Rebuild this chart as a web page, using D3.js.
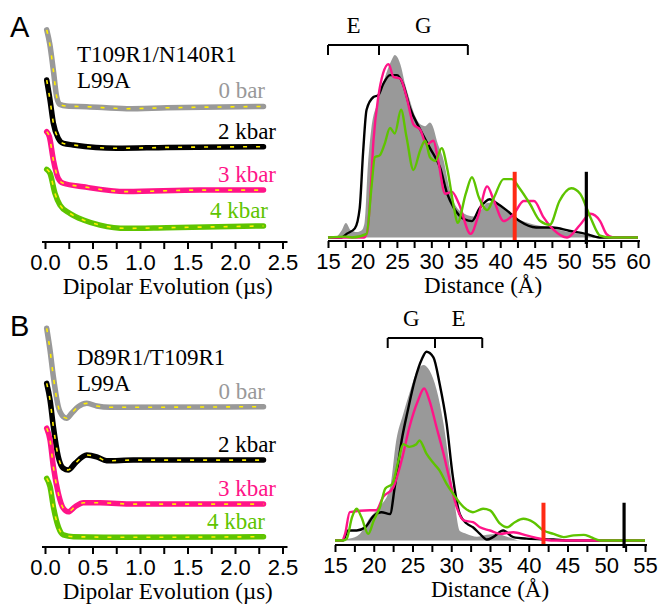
<!DOCTYPE html>
<html>
<head>
<meta charset="utf-8">
<script src="https://cdn.jsdelivr.net/npm/d3@7"></script>
<style>
  body { margin: 0; background: #fff; }
  svg { display: block; }
</style>
</head>
<body>
<svg id="fig" width="662" height="607"></svg>
<script>
// ---- data ----
var pressures = ["0 bar", "2 kbar", "3 kbar", "4 kbar"];
var traceColors = ["#999999", "#000000", "#ff1488", "#5ec400"];

// DEER decays, [time (us), signal + offset (a.u.)]
var decayA0 = [[0.018,96.4],[0.05,90],[0.088,78],[0.123,66],[0.158,62.5],[0.228,61.8],[0.44,61.5],[0.86,60.6],[1.28,61],[2.30,61.6]];
var decayA2 = [[0.018,73.6],[0.053,64.5],[0.088,54],[0.14,47.1],[0.193,44.8],[0.298,44.1],[0.754,42.6],[1.28,43],[2.30,43.3]];
var decayA3 = [[0.018,50.1],[0.046,47.9],[0.088,37.3],[0.14,28.9],[0.193,26.7],[0.404,25.1],[0.86,22.9],[1.63,23.6],[2.30,23.6]];
var decayA4 = [[0.018,33],[0.053,31.2],[0.105,22.1],[0.158,16.8],[0.263,13],[0.404,10],[0.579,7.7],[0.86,6.2],[1.28,6.5],[2.30,7.3]];

var decayB0 = [[0.018,99.4],[0.053,89.5],[0.088,77.4],[0.14,63.8],[0.193,59.2],[0.228,58.5],[0.28,60.8],[0.35,63.8],[0.44,65.3],[0.544,64.1],[0.684,63.5],[2.30,63.8]];
var decayB2 = [[0.018,74.4],[0.053,66.8],[0.088,54.7],[0.14,41],[0.193,35.8],[0.245,35],[0.316,38],[0.44,41.8],[0.544,41],[0.649,39.2],[0.93,39.5],[2.30,39.5]];
var decayB3 = [[0.018,54],[0.053,48.6],[0.088,36.5],[0.14,24.4],[0.193,17.6],[0.245,16],[0.316,18.3],[0.404,20.1],[0.579,20.1],[0.93,19.5],[2.30,19.5]];
var decayB4 = [[0.018,31.2],[0.053,27.4],[0.088,18.3],[0.14,9.2],[0.193,5.5],[0.298,4.7],[0.93,4.4],[2.30,4.7]];

// distance distributions, [distance (A), P(r) a.u.]
var distA0 = [[15,0],[16.2,0.5],[17,4],[17.6,8],[18.3,4],[19.2,3],[19.9,4],[20.3,8],[20.8,40],[21.3,60],[22.2,74],[23.2,87],[24.2,97],[24.7,100],[25.5,95],[26.2,84],[26.9,75],[27.6,67],[28.4,62],[29.1,61],[29.8,63],[30.3,60],[30.8,53],[31.8,42],[32.6,27],[33.3,19],[34.8,13],[36.2,11.5],[37.2,15],[38.2,19],[39.2,19],[40.2,17],[41.2,14],[42.2,11],[44.1,8],[47,5.5],[49.9,3],[52.8,1],[54.2,0],[60,0]];
var distA2 = [[15,0],[17,0],[17.7,2],[18.9,5],[19.6,16],[20.1,47],[20.6,70],[21.6,77],[22.3,78],[23,84],[24,89],[25,89],[25.9,84],[26.9,71],[28.4,59],[29.8,49],[31.3,38],[32.3,24],[33.3,16],[34.8,10],[35.9,9],[37,16],[38.5,21],[39.4,19],[40.9,15],[42.8,9],[45.2,5.5],[47.6,5.5],[50,3.7],[52.4,2],[54.4,0],[60,0]];
var distA3 = [[15,0],[20.2,0],[20.7,3],[21.1,20],[21.6,53],[22.3,77],[23,90],[23.8,95],[24.5,88],[25.5,87],[26.4,77],[27.4,62],[28.4,59],[29.3,51],[30.3,53],[31,42],[32,24],[33,25],[34,18.5],[35.7,2],[36.9,13],[38.1,28],[39.1,20],[40.5,9],[42,13],[43.4,20],[44.9,20],[46.3,11],[47.8,4],[49.7,0],[51.6,7],[53.1,13],[54.5,9],[55.4,2],[56.4,0],[60,0]];
var distA4 = [[15,0],[17.5,0.5],[18.5,0],[20.6,2],[21.3,27],[21.8,44],[22.5,45],[23.2,51],[24,60],[24.7,57],[25.6,70],[26.4,55],[27.4,37],[28.4,48],[29.1,53],[29.8,44],[30.6,42],[31.5,49],[32.3,38],[33.3,16],[33.8,8],[35,24],[35.9,33],[36.9,22],[38.1,15],[39.1,22],[40.5,32],[41.7,32],[42.8,27],[44.3,18.5],[45.8,9],[47.2,7],[48.6,20],[50.3,27],[51.6,24],[53.1,11],[54.5,1],[55.9,0],[60,0]];

var distB0 = [[15,0],[16.9,1],[18.2,3.5],[19.5,12],[20.8,18],[22.1,28],[22.9,53],[23.8,67],[24.6,78],[25.5,89],[26.4,93],[27.2,90],[28.1,80],[29,62],[29.8,39],[30.5,18],[31.1,5],[32,3.5],[33.3,2],[34.6,3],[35.9,3.5],[37.2,2],[38.9,0],[55,0]];
var distB2 = [[15,0],[16,0],[16.7,5.3],[17.8,5.3],[18.9,7],[20,13],[21,15],[22.1,14],[22.7,28],[23.6,53],[24.4,69],[25.3,85],[26.2,96],[26.8,100],[27.7,97],[28.5,83],[29.4,62],[30.2,34],[31.1,14],[32,9],[32.8,7],[33.7,3.5],[34.6,0.5],[35.4,1.8],[36.7,5.3],[38,1.8],[39.7,1],[43.2,0.5],[45.3,0],[55,0]];
var distB3 = [[15,0],[15.9,0],[16.3,3.5],[16.9,15],[19.5,16],[20.3,16],[21.2,23],[22.5,28],[23.6,42.5],[24.6,60],[25.7,74],[26.5,80.5],[27.2,74],[28.1,60],[29,46],[29.8,32],[30.7,17.7],[31.6,10.6],[32.8,9.7],[33.7,7],[35,5.3],[36.3,3.5],[38,4.4],[39.7,2.7],[41.5,0.9],[43.2,0],[55,0]];
var distB4 = [[15,0],[16,0],[16.5,0.9],[17.2,12.4],[17.8,16.8],[18.4,12.4],[19.3,3.5],[20,10.6],[20.8,17.7],[21.5,27.5],[22.4,30],[23.2,42.5],[23.8,51],[24.6,49.6],[25.5,51],[25.9,53],[26.8,46],[27.7,41],[28.5,37],[29.4,30],[30.2,25],[31.6,17.7],[32.8,15],[34.1,16.8],[35,16],[36.3,8.9],[37.2,7],[38.2,9.7],[39.3,11.5],[40.6,9.7],[41.9,5.3],[43.2,3.5],[44.5,1.8],[45.8,2.7],[47.1,3],[48,1.8],[49.2,0],[55,0]];

// vertical markers: [distance, height]
var markersA = [[42.1, 36], [52.5, 36]];
var markersB = [[41.9, 20], [52.3, 20]];
var markerColors = ["#ff2a14", "#000000"];

// E / G brackets: [start, split, end]
var bracketA = [15, 22.4, 35.3];
var bracketLabelsA = ["E", "G"];
var bracketB = [21.8, 27.9, 34.0];
var bracketLabelsB = ["G", "E"];

var decayTickLabels = [0, 0.5, 1, 1.5, 2, 2.5];
var distTickLabelsA = [15, 20, 25, 30, 35, 40, 45, 50, 55, 60];
var distTickLabelsB = [15, 20, 25, 30, 35, 40, 45, 50, 55];

var panelLetters = ["A", "B"];
var mutantsA = ["T109R1/N140R1", "L99A"];
var mutantsB = ["D89R1/T109R1", "L99A"];

// ---- drawing ----
var svg = d3.select("#fig");
var SERIF = "'Liberation Serif', 'Times New Roman', serif";
var SANS = "'Liberation Sans', Arial, sans-serif";

function bottomAxis(g, x, y0, labels, fmt, extendL, extendR) {
    var lo = labels[0], hi = labels[labels.length - 1];
    var step = (labels[1] - labels[0]) / 2;
    var ticks = d3.range(0, Math.round((hi - lo) / step) + 1).map(function(i) { return lo + i * step; });
    var axis = d3.axisBottom(x)
        .tickValues(ticks)
        .tickSize(7)
        .tickSizeOuter(0)
        .tickFormat(function(d) { return labels.indexOf(d) >= 0 ? fmt(d) : ""; });
    var a = g.append("g")
        .attr("transform", "translate(0," + y0 + ")")
        .call(axis);
    a.select(".domain")
        .attr("stroke-width", 2)
        .attr("d", "M" + (x(lo) - extendL) + ",0H" + (x(hi) + extendR));
    a.selectAll(".tick line").attr("stroke-width", 2);
    a.selectAll(".tick text")
        .attr("y", 28)
        .attr("dy", 0)
        .attr("fill", "#000")
        .style("font-family", SANS)
        .style("font-size", "22px");
    return a;
}

function drawDecays(cfg) {
    var g = svg.append("g");
    var x = d3.scaleLinear().domain([0, 2.5]).range([45, 282.5]);
    var y = d3.scaleLinear().domain([0, 100]).range([cfg.bottom, cfg.bottom - 220]);
    var line = d3.line()
        .x(function(d) { return x(d[0]); })
        .y(function(d) { return y(d[1]); })
        .curve(d3.curveMonotoneX);

    cfg.traces.forEach(function(tr, i) {
        g.append("path")
            .attr("d", line(tr))
            .attr("fill", "none")
            .attr("stroke", traceColors[i])
            .attr("stroke-width", 5.5)
            .attr("stroke-linecap", "round")
            .attr("stroke-linejoin", "round");
        // fit overlaid as yellow dashes
        g.append("path")
            .attr("d", line(tr))
            .attr("fill", "none")
            .attr("stroke", "#ffee00")
            .attr("stroke-width", 1.6)
            .attr("stroke-dasharray", "4,9");
        var last = tr[tr.length - 1];
        g.append("text")
            .attr("x", cfg.labelRight[i])
            .attr("y", y(last[1]) - 8)
            .attr("text-anchor", "end")
            .attr("fill", traceColors[i])
            .style("font-family", SERIF)
            .style("font-size", "23px")
            .text(pressures[i]);
    });

    g.append("text")
        .attr("x", 10)
        .attr("y", cfg.letterY)
        .style("font-family", SANS)
        .style("font-size", "29px")
        .text(cfg.letter);

    cfg.mutant.forEach(function(t, i) {
        g.append("text")
            .attr("x", 77)
            .attr("y", cfg.mutantY + i * 26)
            .style("font-family", SERIF)
            .style("font-size", "23px")
            .text(t);
    });

    bottomAxis(g, x, cfg.bottom, decayTickLabels, d3.format(".1f"), 3, 5);

    g.append("text")
        .attr("x", (x(0) + x(2.5)) / 2 + 4)
        .attr("y", cfg.bottom + 52)
        .attr("text-anchor", "middle")
        .style("font-family", SERIF)
        .style("font-size", "23px")
        .text("Dipolar Evolution (\u00b5s)");
}

function drawDistances(cfg) {
    var g = svg.append("g");
    var x = d3.scaleLinear().domain(cfg.xDomain).range(cfg.xRange);
    var y = d3.scaleLinear().domain([0, 100]).range([cfg.base, cfg.peakY]);
    var line = d3.line()
        .x(function(d) { return x(d[0]); })
        .y(function(d) { return y(d[1]); })
        .curve(d3.curveMonotoneX);
    var area = d3.area()
        .x(function(d) { return x(d[0]); })
        .y0(y(0))
        .y1(function(d) { return y(d[1]); })
        .curve(d3.curveMonotoneX);

    // 0 bar as grey filled area
    g.append("path")
        .attr("d", area(cfg.traces[0]))
        .attr("fill", "#999999");

    [1, 2, 3].forEach(function(i) {
        g.append("path")
            .attr("d", line(cfg.traces[i]))
            .attr("fill", "none")
            .attr("stroke", traceColors[i])
            .attr("stroke-width", 2.4)
            .attr("stroke-linejoin", "round");
    });

    cfg.markers.forEach(function(m, i) {
        g.append("line")
            .attr("x1", x(m[0])).attr("x2", x(m[0]))
            .attr("y1", y(m[1])).attr("y2", cfg.axisY + (i === 1 ? 3 : 0))
            .attr("stroke", markerColors[i])
            .attr("stroke-width", i === 0 ? 4 : 3.2);
    });

    // E/G bracket
    var b = cfg.bracket;
    var bg = g.append("g")
        .attr("fill", "none")
        .attr("stroke", "#000")
        .attr("stroke-width", 2);
    bg.append("line")
        .attr("x1", x(b[0])).attr("x2", x(b[2]))
        .attr("y1", cfg.bracketY).attr("y2", cfg.bracketY);
    b.forEach(function(v) {
        bg.append("line")
            .attr("x1", x(v)).attr("x2", x(v))
            .attr("y1", cfg.bracketY).attr("y2", cfg.bracketY + 10);
    });
    cfg.bracketLabels.forEach(function(t, i) {
        g.append("text")
            .attr("x", (x(b[i]) + x(b[i + 1])) / 2)
            .attr("y", cfg.bracketY - 12)
            .attr("text-anchor", "middle")
            .style("font-family", SERIF)
            .style("font-size", "23px")
            .text(t);
    });

    bottomAxis(g, x, cfg.axisY, cfg.tickLabels, d3.format("d"), 0, 2);

    g.append("text")
        .attr("x", (cfg.xRange[0] + cfg.xRange[1]) / 2)
        .attr("y", cfg.axisY + 52)
        .attr("text-anchor", "middle")
        .style("font-family", SERIF)
        .style("font-size", "23px")
        .text("Distance (\u00c5)");
}

drawDecays({
    traces: [decayA0, decayA2, decayA3, decayA4],
    bottom: 242, labelRight: [265, 276, 276, 268],
    letter: panelLetters[0], letterY: 37,
    mutant: mutantsA, mutantY: 62
});
drawDecays({
    traces: [decayB0, decayB2, decayB3, decayB4],
    bottom: 547, labelRight: [265, 276, 276, 265],
    letter: panelLetters[1], letterY: 336,
    mutant: mutantsB, mutantY: 365
});

drawDistances({
    traces: [distA0, distA2, distA3, distA4],
    xDomain: [15, 60], xRange: [328, 638],
    base: 237.5, peakY: 55, axisY: 241,
    markers: markersA,
    bracket: bracketA, bracketLabels: bracketLabelsA, bracketY: 45,
    tickLabels: distTickLabelsA
});
drawDistances({
    traces: [distB0, distB2, distB3, distB4],
    xDomain: [15, 55], xRange: [335, 645],
    base: 540.5, peakY: 351.7, axisY: 545,
    markers: markersB,
    bracket: bracketB, bracketLabels: bracketLabelsB, bracketY: 338,
    tickLabels: distTickLabelsB
});
</script>
</body>
</html>
